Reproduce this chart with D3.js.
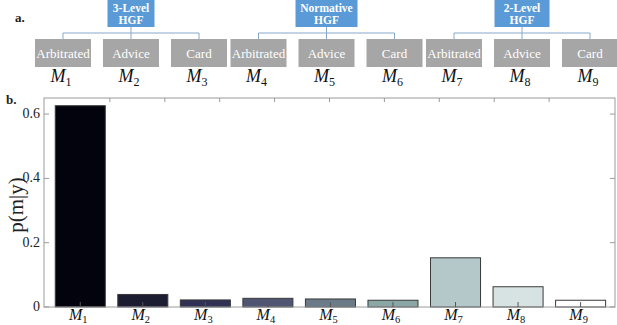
<!DOCTYPE html>
<html><head><meta charset="utf-8">
<script src="https://cdn.jsdelivr.net/npm/d3@7"></script>
<style>body{margin:0;background:#fff}svg{display:block}text{font-family:"Liberation Serif","DejaVu Serif",serif}</style>
</head><body>
<svg id="c" width="617" height="325"></svg>
<script>
// ---- data ----
const models = ["M1","M2","M3","M4","M5","M6","M7","M8","M9"];
const modelIndex = [1,2,3,4,5,6,7,8,9];
const probs = [0.626, 0.039, 0.022, 0.027, 0.025, 0.021, 0.153, 0.063, 0.021];
const barColors = ["#03030d","#1d1d32","#313156","#4f5573","#6c7b88","#8aa7a6","#b4c8c9","#d7e3e2","#ffffff"];
const yTicks = [0, 0.2, 0.4, 0.6];
const yTickLabels = ["0", "0.2", "0.4", "0.6"];
const topTicks = [1,2,3,4,5,6,7,8,9];
const groups = [["3-Level","HGF"],["Normative","HGF"],["2-Level","HGF"]];
const subLabels = ["Arbitrated","Advice","Card"];

const svg = d3.select("#c");

// ---- panel a ----
const groupIdx = d3.range(groups.length);
const subIdx = d3.range(subLabels.length);
const gx = d3.scaleLinear().domain([0,1]).range([35, 230.5]);   // group start
const kx = d3.scaleLinear().domain([0,1]).range([0, 68]);       // within group offset
const boxW = 56, boxTop = 39, boxH = 28, lineY = 33;
const blueW = [47, 62, 55];

svg.append("text").attr("x", 15).attr("y", 22)
  .attr("font-weight", "bold").attr("font-size", 13).attr("fill", "#222").text("a.");

groupIdx.forEach(g => {
  const cx0 = gx(g) + boxW/2, cx2 = gx(g) + kx(2) + boxW/2, cx1 = gx(g) + kx(1) + boxW/2;
  const lc = "#86a9c8";
  svg.append("line").attr("x1", cx0).attr("x2", cx2).attr("y1", lineY).attr("y2", lineY)
    .attr("stroke", lc).attr("stroke-width", 1);
  svg.append("line").attr("x1", cx1).attr("x2", cx1).attr("y1", 27).attr("y2", boxTop)
    .attr("stroke", lc).attr("stroke-width", 1);
  [cx0, cx2].forEach(c => svg.append("line").attr("x1", c).attr("x2", c)
    .attr("y1", lineY).attr("y2", boxTop).attr("stroke", lc).attr("stroke-width", 1));
  const bw = blueW[g];
  svg.append("rect").attr("x", cx1 - bw/2).attr("y", 0).attr("width", bw).attr("height", 27)
    .attr("fill", "#5a9ad6");
  groups[g].forEach((t, i) => svg.append("text").attr("x", cx1).attr("y", 11.5 + i*12)
    .attr("text-anchor", "middle").attr("font-weight", "bold")
    .attr("font-size", 11.5).attr("fill", "#fff").text(t));
  subIdx.forEach(k => {
    const x0 = gx(g) + kx(k);
    svg.append("rect").attr("x", x0).attr("y", boxTop).attr("width", boxW).attr("height", boxH)
      .attr("fill", "#a6a6a6");
    svg.append("text").attr("x", x0 + boxW/2).attr("y", boxTop + 18.5).attr("text-anchor", "middle")
      .attr("font-size", 13).attr("fill", "#fff").text(subLabels[k]);
    const m = svg.append("text").attr("x", x0 + boxW/2 - 2).attr("y", 82).attr("text-anchor", "middle")
      .attr("font-size", 18).attr("fill", "#111");
    const lab = models[g*3 + k];
    m.append("tspan").attr("font-style", "italic").text(lab[0]);
    m.append("tspan").attr("font-size", 12).attr("dy", 4).text(lab.slice(1));
  });
});

// ---- panel b ----
const L = 44, R = 615, T = 98, B = 307;
const x = d3.scaleLinear().domain([0.42, 9.55]).range([L, R]);
const xTop = d3.scaleLinear().domain([-0.2, 10.2]).range([L, R]);
const y = d3.scaleLinear().domain([0, 0.65]).range([B, T]);
const bw = (x(2) - x(1)) * 0.8;
const axisCol = "#9a9a9a";

svg.append("text").attr("x", 6).attr("y", 104)
  .attr("font-weight", "bold").attr("font-size", 13).attr("fill", "#222").text("b.");

svg.selectAll("rect.bar").data(probs).join("rect").attr("class", "bar")
  .attr("x", (d, i) => x(modelIndex[i]) - bw/2).attr("width", bw)
  .attr("y", d => y(d)).attr("height", d => B - y(d))
  .attr("fill", (d, i) => barColors[i]).attr("stroke", "#3a3a3a").attr("stroke-width", 1);

svg.append("rect").attr("x", L).attr("y", T).attr("width", R - L).attr("height", B - T)
  .attr("fill", "none").attr("stroke", axisCol).attr("stroke-width", 1);

svg.selectAll("line.bt").data(modelIndex).join("line").attr("class", "bt")
  .attr("x1", d => x(d)).attr("x2", d => x(d)).attr("y1", B).attr("y2", B - 5)
  .attr("stroke", "#555").attr("stroke-width", 1);
svg.selectAll("line.tt").data(topTicks).join("line").attr("class", "tt")
  .attr("x1", d => xTop(d)).attr("x2", d => xTop(d)).attr("y1", T).attr("y2", T + 4)
  .attr("stroke", axisCol).attr("stroke-width", 1);
svg.selectAll("line.yl").data(yTicks).join("line").attr("class", "yl")
  .attr("x1", L).attr("x2", L + 5).attr("y1", d => y(d)).attr("y2", d => y(d))
  .attr("stroke", axisCol);
svg.selectAll("line.yr").data(yTicks).join("line").attr("class", "yr")
  .attr("x1", R - 5).attr("x2", R).attr("y1", d => y(d)).attr("y2", d => y(d))
  .attr("stroke", axisCol);
svg.selectAll("text.yt").data(yTicks).join("text").attr("class", "yt")
  .attr("x", L - 4).attr("y", d => y(d) + 4).attr("text-anchor", "end")
  .attr("font-size", 14).attr("fill", "#222")
  .text((d, i) => yTickLabels[i]);

modelIndex.forEach((d, i) => {
  const t = svg.append("text").attr("x", x(d) - 2).attr("y", 320).attr("text-anchor", "middle")
    .attr("font-size", 16).attr("fill", "#111");
  t.append("tspan").attr("font-style", "italic").text(models[i][0]);
  t.append("tspan").attr("font-size", 10.5).attr("dy", 2.5).text(models[i].slice(1));
});

svg.append("text").attr("transform", "translate(23,205) rotate(-90)").attr("text-anchor", "middle")
  .attr("font-size", 21).attr("fill", "#222").text("p(m|y)");
</script>
</body></html>
